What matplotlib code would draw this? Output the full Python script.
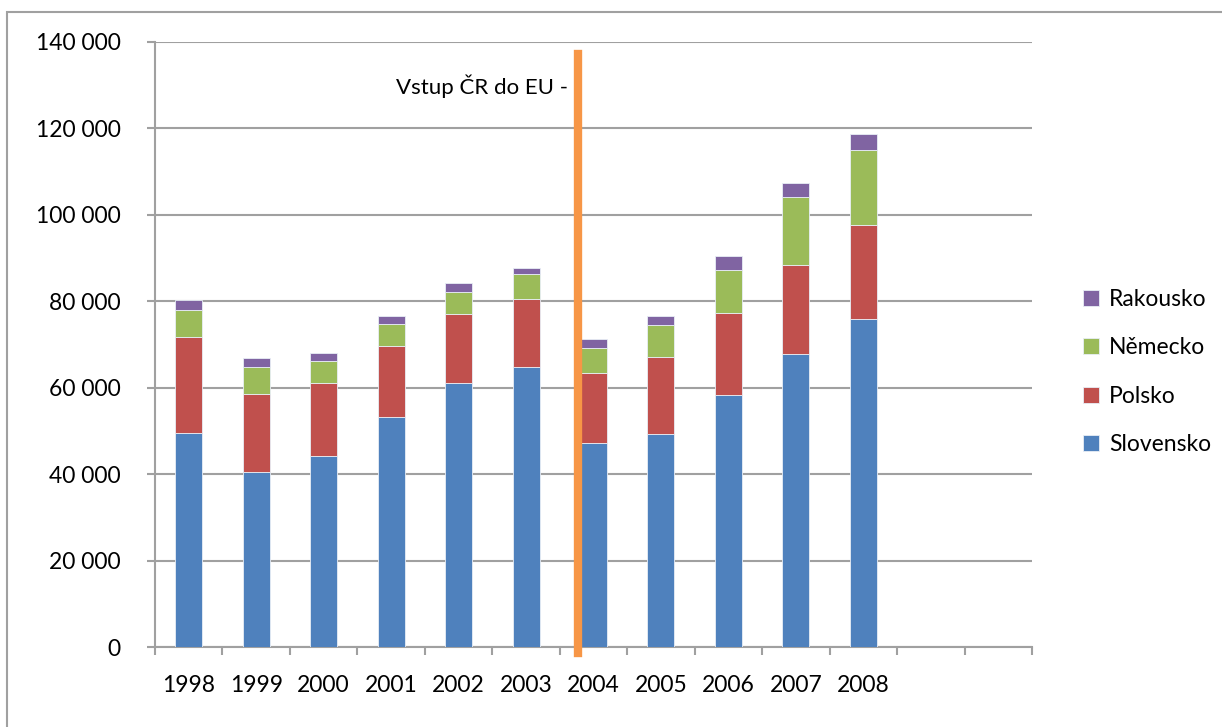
import matplotlib
matplotlib.use("Agg")
import matplotlib.pyplot as plt
from matplotlib.ticker import FuncFormatter, FixedLocator
from matplotlib.patches import Rectangle
import numpy as np

plt.rcParams['font.family'] = ['Lato', 'DejaVu Sans']

# data
roky = ['1998', '1999', '2000', '2001', '2002', '2003', '2004', '2005', '2006', '2007', '2008', '', '']
slovensko = [49500, 40400, 44300, 53200, 61000, 64800, 47300, 49400, 58350, 67800, 76000]
polsko = [22200, 18200, 16900, 16500, 16000, 15700, 16200, 17700, 18850, 20600, 21700]
nemecko = [6300, 6100, 5000, 5000, 5200, 5700, 5800, 7300, 10100, 15700, 17400]
rakousko = [2300, 2250, 1900, 1800, 2100, 1600, 2050, 2300, 3100, 3300, 3650]
popisek = 'Vstup ČR do EU -'

barvy = ['#4F81BD', '#C0504D', '#9BBB59', '#8064A2']
sedy = '#A0A0A0'

fig = plt.figure(figsize=(12.22, 7.27), dpi=100)
# outer chart frame
fig.patches.append(Rectangle((7/1222, -0.05), 1.2, 1 - 12/727 + 0.05, transform=fig.transFigure,
                             fill=False, edgecolor=sedy, linewidth=1.5, zorder=0))
ax = fig.add_axes([155/1222, 1 - 647/727, (1032-155)/1222, (647-42)/727])

x = np.arange(len(slovensko))
bottom = np.zeros(len(slovensko))
rady = [('Slovensko', slovensko), ('Polsko', polsko), ('Německo', nemecko), ('Rakousko', rakousko)]
handles = []
for (jmeno, hodnoty), c in zip(rady, barvy):
    b = ax.bar(x, hodnoty, 0.4, bottom=bottom, color=c, edgecolor='#E8EEF6', linewidth=0.6,
               label=jmeno, zorder=3)
    handles.append(b)
    bottom += np.array(hodnoty)

ax.set_xlim(-0.5, len(roky) - 0.5)
ax.set_ylim(0, 140000)
ax.yaxis.set_major_locator(FixedLocator(np.arange(0, 140001, 20000)))
ax.yaxis.set_major_formatter(FuncFormatter(lambda v, p: f'{int(v):,}'.replace(',', ' ')))
ax.grid(axis='y', color=sedy, linewidth=1.5, zorder=0)

ax.set_xticks(np.arange(len(roky)))
ax.set_xticklabels(roky)
ax.set_xticks(np.arange(-0.5, len(roky)), minor=True)
ax.tick_params(axis='x', which='major', length=0, pad=20, labelsize=16.5)
ax.tick_params(axis='x', which='minor', length=5.5, width=1.5, color=sedy)
ax.tick_params(axis='y', length=5.5, width=1.5, color=sedy, labelsize=16.5, pad=19)

for s in ['top', 'right']:
    ax.spines[s].set_visible(False)
for s in ['left', 'bottom']:
    ax.spines[s].set_color(sedy)
    ax.spines[s].set_linewidth(1.5)

# EU accession marker
ax.plot([5.77, 5.77], [-1500, 137300], color='#F79646', linewidth=6, clip_on=False, zorder=4)
ax.text(5.62, 129800, popisek, ha='right', va='center', fontsize=16, zorder=5)

leg = fig.legend(handles[::-1], [r[0] for r in rady][::-1], loc='center left',
                 bbox_to_anchor=(1062/1222, 1 - 372/727), frameon=False, fontsize=16.5,
                 handlelength=0.7, handleheight=0.7, handletextpad=0.45, labelspacing=1.2)

fig.savefig('out.png', dpi=100)
